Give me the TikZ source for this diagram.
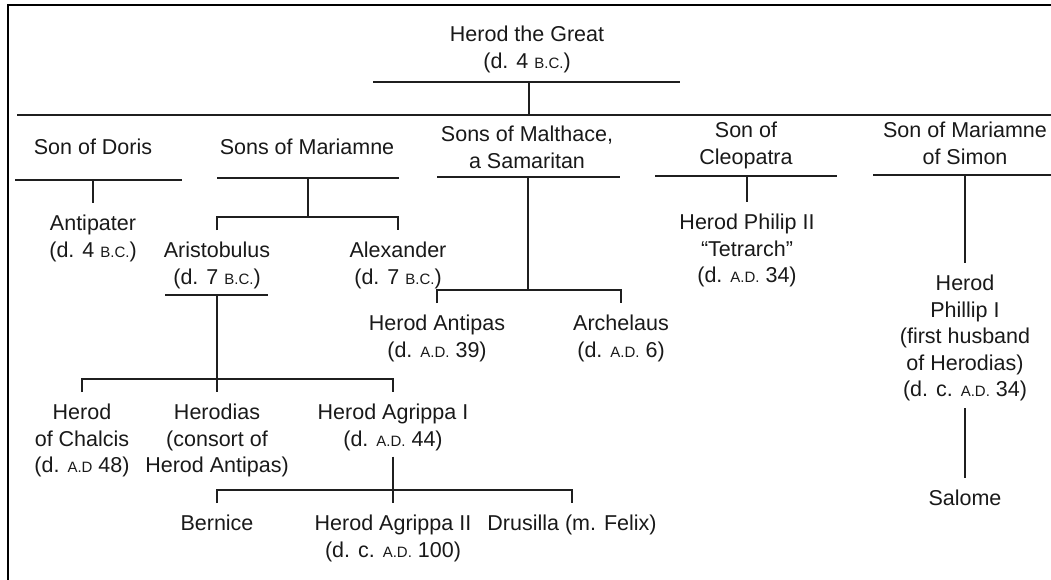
\documentclass[tikz,border=0pt]{standalone}
\usepackage{fontspec}
\setmainfont{Liberation Sans}
\usetikzlibrary{calc}
\definecolor{LineClr}{rgb}{0.12,0.12,0.12}
\definecolor{TextClr}{rgb}{0.1,0.1,0.1}
\newcommand{\AbbrBC}{{\fontsize{15}{15}\selectfont B.C.}}
\newcommand{\AbbrAD}{{\fontsize{15}{15}\selectfont A.D.}}

\begin{document}
\begin{tikzpicture}[x=1pt,y=-1pt,
  every node/.style={font={\fontsize{21.5}{26.6}\selectfont},text=TextClr},
  person/.style={align=center,anchor=north,inner xsep=1pt,inner ysep=12pt,outer sep=0pt},
  tie/.style={line width=1.3pt,color=LineClr},
  frame/.style={line width=2pt,color=black}]
\useasboundingbox (0,0) rectangle (1051,580);

\draw[frame] (8,580) -- (8,5) -- (1051,5);

\node[person] (Great) at (527,14) {Herod the Great\\(d. 4 \AbbrBC)};
\coordinate (GreatRule) at (529,82);
\coordinate (Trunk) at (529,115);

\node[person] (Doris) at (93,127) {Son of Doris};
\node[person] (Mariamne) at (307,127) {Sons of Mariamne};
\node[person] (Malthace) at (527,114) {Sons of Malthace,\\a Samaritan};
\node[person] (Cleopatra) at (746,110) {Son of\\Cleopatra};
\node[person] (Simon) at (965,110) {Son of Mariamne\\of Simon};

\coordinate (DorisRule) at (93,180);
\coordinate (MariamneRule) at (308,178);
\coordinate (MariamneFork) at (308,217);
\coordinate (MalthaceRule) at (528,177);
\coordinate (MalthaceFork) at (528,290);
\coordinate (CleopatraRule) at (747,176);
\coordinate (SimonRule) at (965,175);
\coordinate (AristobulusRule) at (217,295);
\coordinate (AristobulusFork) at (217,379);
\coordinate (AgrippaFork) at (393,490);

\node[person] (Antipater) at (93,203) {Antipater\\(d. 4 \AbbrBC)};
\node[person] (Aristobulus) at (217,230) {Aristobulus\\(d. 7 \AbbrBC)};
\node[person] (Alexander) at (398,230) {Alexander\\(d. 7 \AbbrBC)};
\node[person] (Antipas) at (437,303) {Herod Antipas\\(d. \AbbrAD{} 39)};
\node[person] (Archelaus) at (621,303) {Archelaus\\(d. \AbbrAD{} 6)};
\node[person] (PhilipII) at (747,202) {Herod Philip II\\``Tetrarch''\\(d. \AbbrAD{} 34)};
\node[person] (PhillipI) at (965,263) {Herod\\Phillip I\\(first husband\\of Herodias)\\(d. c. \AbbrAD{} 34)};
\node[person] (Salome) at (965,478) {Salome};

\node[person] (Chalcis) at (82,392) {Herod\\of Chalcis\\(d. {\fontsize{15}{15}\selectfont A.D} 48)};
\node[person] (Herodias) at (217,392) {Herodias\\(consort of\\Herod Antipas)};
\node[person] (AgrippaI) at (393,392) {Herod Agrippa I\\(d. \AbbrAD{} 44)};

\node[person] (Bernice) at (217,503) {Bernice};
\node[person] (AgrippaII) at (393,503) {Herod Agrippa II\\(d. c. \AbbrAD{} 100)};
\node[person] (Drusilla) at (572,503) {Drusilla (m. Felix)};

\draw[tie] (373,82) -- (680,82);
\draw[tie] (GreatRule) -- (Trunk);
\draw[tie] (17,115) -- (1051,115);

\draw[tie] (15,180) -- (182,180);
\draw[tie] (217,178) -- (399,178);
\draw[tie] (437,177) -- (620,177);
\draw[tie] (655,176) -- (837,176);
\draw[tie] (873,175) -- (1051,175);
\draw[tie] (165,295) -- (268,295);

\draw[tie] (DorisRule) -- (Antipater.north);
\draw[tie] (MariamneRule) -- (MariamneFork);
\draw[tie] (Aristobulus.north) |- (MariamneFork) -| (Alexander.north);
\draw[tie] (MalthaceRule) -- (MalthaceFork);
\draw[tie] (Antipas.north) |- (MalthaceFork) -| (Archelaus.north);
\draw[tie] (CleopatraRule) -- (PhilipII.north);
\draw[tie] (SimonRule) -- (PhillipI.north);
\draw[tie,shorten <=-5pt] (PhillipI.south) -- (Salome.north);

\draw[tie] (AristobulusRule) -- (Herodias.north);
\draw[tie] (Chalcis.north) |- (AristobulusFork) -| (AgrippaI.north);
\draw[tie,shorten <=-6pt] (AgrippaI.south) -- (AgrippaII.north);
\draw[tie] (Bernice.north) |- (AgrippaFork) -| (Drusilla.north);

\end{tikzpicture}
\end{document}
